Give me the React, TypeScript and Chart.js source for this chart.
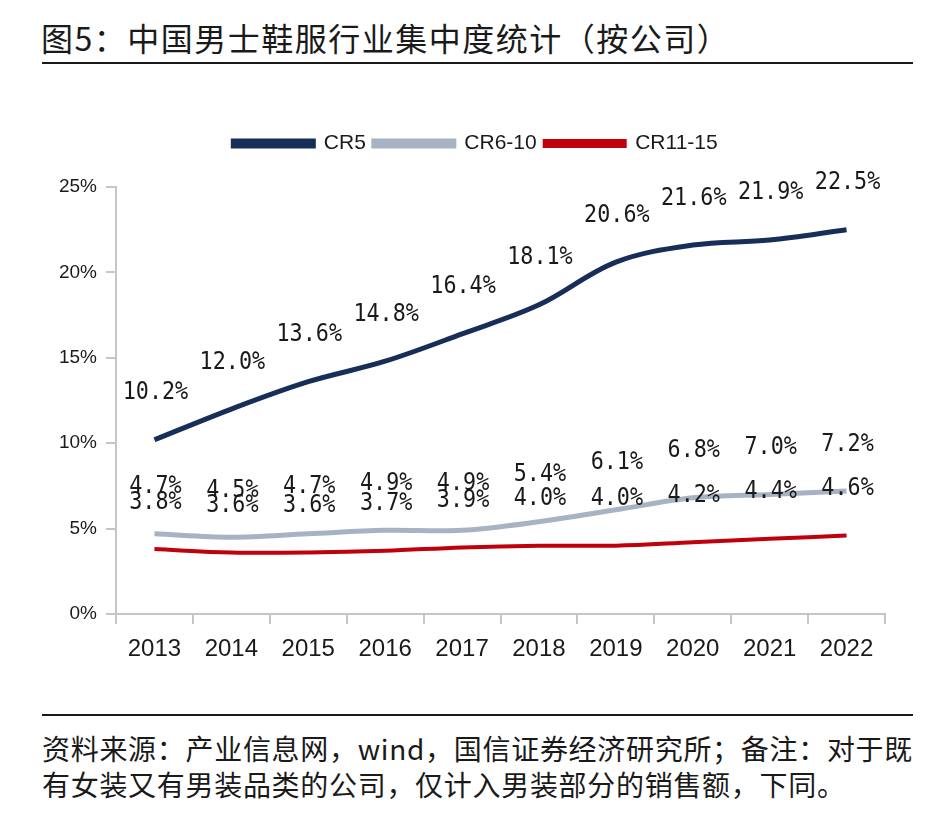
import { useEffect, useRef } from 'react';
import { Chart, registerables } from 'chart.js';

Chart.register(...registerables);

const years = ['2013', '2014', '2015', '2016', '2017', '2018', '2019', '2020', '2021', '2022'];
const cr5 = [10.2, 12.0, 13.6, 14.8, 16.4, 18.1, 20.6, 21.6, 21.9, 22.5];
const cr6to10 = [4.7, 4.5, 4.7, 4.9, 4.9, 5.4, 6.1, 6.8, 7.0, 7.2];
const cr11to15 = [3.8, 3.6, 3.6, 3.7, 3.9, 4.0, 4.0, 4.2, 4.4, 4.6];
const seriesNames = ['CR5', 'CR6-10', 'CR11-15'];
const seriesColors = ['#172f58', '#a7b3c3', '#c0000b'];

const titleText = '图5：中国男士鞋服行业集中度统计（按公司）';
const sourceLines = [
    '资料来源：产业信息网，wind，国信证券经济研究所；备注：对于既',
    '有女装又有男装品类的公司，仅计入男装部分的销售额，下同。',
];

// value labels above every point
const valueLabels = {
    id: 'valueLabels',
    afterDatasetsDraw(chart: any) {
        const { ctx } = chart;
        ctx.save();
        ctx.font = '25px "DejaVu Sans Mono", monospace';
        ctx.fillStyle = '#1a1a1a';
        ctx.textAlign = 'center';
        ctx.textBaseline = 'middle';
        chart.data.datasets.forEach((ds: any, i: number) => {
            const meta = chart.getDatasetMeta(i);
            meta.data.forEach((pt: any, j: number) => {
                ctx.save();
                ctx.translate(pt.x + 1, pt.y - 47);
                ctx.scale(0.87, 1);
                ctx.fillText(ds.data[j].toFixed(1) + '%', 0, 0);
                ctx.restore();
            });
        });
        ctx.restore();
    },
};

// extra room between legend and plot, and centre the legend like the original
const legendGap = {
    id: 'legendGap',
    beforeInit(chart: any) {
        const fit = chart.legend.fit;
        chart.legend.fit = function () {
            fit.bind(chart.legend)();
            this.height += 23;
        };
    },
    afterLayout(chart: any) {
        chart.legend.left += 33;
        chart.legend.right += 33;
    },
};

export default function App() {
    const chartRef = useRef<HTMLCanvasElement>(null);

    useEffect(() => {
        if (!chartRef.current) return;
        const axisGray = '#c6c6c6';

        const chart = new Chart(chartRef.current, {
            type: 'line',
            data: {
                labels: years,
                datasets: [cr5, cr6to10, cr11to15].map((d, i) => ({
                    label: seriesNames[i],
                    data: d,
                    borderColor: seriesColors[i],
                    backgroundColor: seriesColors[i],
                    borderWidth: i === 2 ? 4 : 5,
                    pointRadius: 0,
                    tension: 0.35,
                    fill: false,
                })),
            },
            options: {
                responsive: true,
                maintainAspectRatio: false,
                animation: false,
                layout: { padding: { top: 25, right: 54, bottom: 40, left: 0 } },
                plugins: {
                    legend: {
                        position: 'top',
                        labels: {
                            boxWidth: 80,
                            boxHeight: 5,
                            padding: 8,
                            color: '#1a1a1a',
                            font: { family: '"Liberation Sans", Arial, sans-serif', size: 21 },
                        },
                    },
                    tooltip: { enabled: false },
                },
                scales: {
                    x: {
                        offset: true,
                        grid: { offset: true, drawOnChartArea: false, drawTicks: true, tickLength: 10, color: axisGray, lineWidth: 2 },
                        border: { color: axisGray, width: 2 },
                        ticks: {
                            padding: 11,
                            color: '#1a1a1a',
                            font: { family: '"Liberation Sans", Arial, sans-serif', size: 24 },
                        },
                        afterFit(scale: any) {
                            scale.height = 46;
                        },
                    },
                    y: {
                        min: 0,
                        max: 25,
                        ticks: {
                            stepSize: 5,
                            padding: 9,
                            color: '#1a1a1a',
                            font: { family: '"Liberation Sans", Arial, sans-serif', size: 19 },
                            callback: (v: any) => v + '%',
                        },
                        grid: { drawOnChartArea: false, drawTicks: true, tickLength: 10, color: axisGray, lineWidth: 2 },
                        border: { color: axisGray, width: 2 },
                        afterFit(scale: any) {
                            scale.width = 116;
                        },
                    },
                },
            } as any,
            plugins: [valueLabels, legendGap],
        });

        return () => chart.destroy();
    }, []);

    const cjk = '"Noto Sans CJK SC", sans-serif';

    return (
        <div style={{ position: 'absolute', left: 0, top: 0, width: 939, height: 827, background: '#fff', color: '#1a1a1a', fontFamily: cjk }}>
            <div style={{ position: 'absolute', left: 41, top: 20, fontSize: 32, lineHeight: '34px', letterSpacing: '1.5px', whiteSpace: 'nowrap' }}>{titleText}</div>
            <div style={{ position: 'absolute', left: 42, top: 62, width: 871, height: 2, background: '#1a1a1a' }} />
            <div style={{ position: 'absolute', left: 0, top: 100, width: 939, height: 600 }}>
                <canvas ref={chartRef} />
            </div>
            <div style={{ position: 'absolute', left: 42, top: 714, width: 871, height: 2, background: '#1a1a1a' }} />
            <div style={{ position: 'absolute', left: 42, top: 730, fontSize: 28, lineHeight: '36px', letterSpacing: '0.7px', whiteSpace: 'nowrap' }}>
                {sourceLines.map(l => (
                    <div key={l}>{l}</div>
                ))}
            </div>
        </div>
    );
}
